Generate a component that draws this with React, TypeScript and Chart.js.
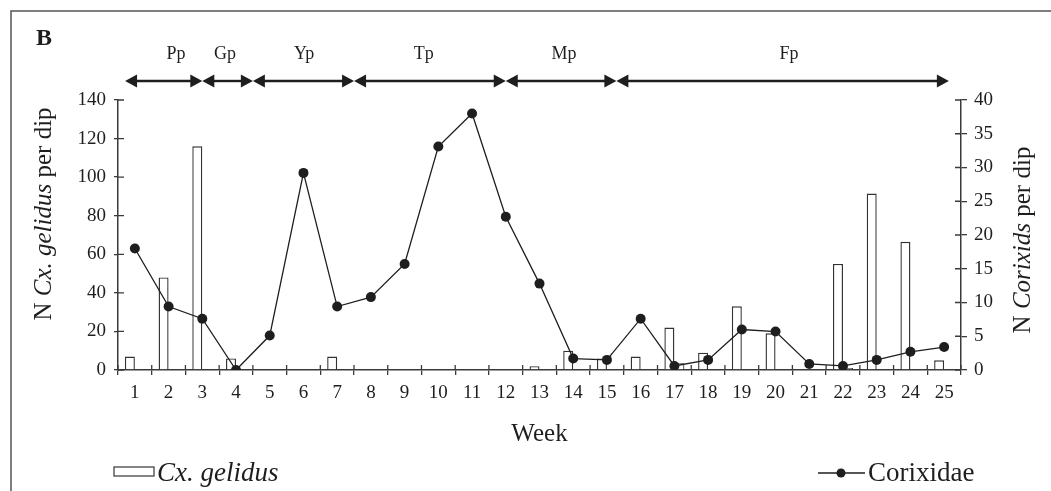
import React, { useEffect, useRef } from 'react';
import { Chart, registerables } from 'chart.js';

Chart.register(...registerables);

const weeks = ['1','2','3','4','5','6','7','8','9','10','11','12','13','14','15','16','17','18','19','20','21','22','23','24','25'];
const cxGelidus = [7, 48, 116, 6, 0, 0, 7, 0, 0, 0, 0, 0, 2, 10, 6, 7, 22, 9, 33, 19, 0, 55, 91.5, 66.5, 5];
const minorBars = [null, null, null, null, null, null, null, null, null, null, null, null, null, null, null, null, 3.5, null, null, null, null, 1, null, null, null];
const corixidae = [18.0, 9.4, 7.6, 0, 5.1, 29.2, 9.4, 10.8, 15.7, 33.1, 38.0, 22.7, 12.8, 1.7, 1.5, 7.6, 0.6, 1.5, 6.0, 5.7, 0.9, 0.6, 1.5, 2.7, 3.4];
const leftMax = 140;
const leftStep = 20;
const rightMax = 40;
const rightStep = 5;
const phaseNames = ['Pp', 'Gp', 'Yp', 'Tp', 'Mp', 'Fp'];
const phaseBounds = [-0.29, 2, 3.5, 6.5, 11, 14.28, 24.14];
const phaseLabelAt = [1.22, 2.67, 5.02, 8.57, 12.73, 19.4];

const SERIF = "'Liberation Serif', 'Times New Roman', serif";
const INK = '#1e1e1e';
const AXIS = '#3a3a3a';

function drawMixed(ctx: CanvasRenderingContext2D, parts: { t: string; italic?: boolean }[], size: number, x: number, y: number, align: 'center' | 'left') {
  const widths = parts.map((p) => {
    ctx.font = `${p.italic ? 'italic ' : ''}${size}px ${SERIF}`;
    return ctx.measureText(p.t).width;
  });
  const total = widths.reduce((a, b) => a + b, 0);
  let cx = align === 'center' ? x - total / 2 : x;
  ctx.textAlign = 'left';
  parts.forEach((p, i) => {
    ctx.font = `${p.italic ? 'italic ' : ''}${size}px ${SERIF}`;
    ctx.fillText(p.t, cx, y);
    cx += widths[i];
  });
}

const decorPlugin = {
  id: 'decor',
  afterDraw(chart: any) {
    const ctx: CanvasRenderingContext2D = chart.ctx;
    const xs = chart.scales.x;
    const yl = chart.scales.y;
    const yr = chart.scales.y1;
    const area = chart.chartArea;
    ctx.save();

    // frame
    ctx.strokeStyle = '#555';
    ctx.lineWidth = 1.5;
    ctx.beginPath();
    ctx.moveTo(11, chart.height);
    ctx.lineTo(11, 11);
    ctx.lineTo(chart.width, 11);
    ctx.stroke();

    // inner tick marks
    ctx.strokeStyle = AXIS;
    ctx.lineWidth = 1.3;
    ctx.beginPath();
    for (let i = 0; i <= weeks.length; i++) {
      const px = xs.getPixelForValue(i - 0.5);
      ctx.moveTo(px, area.bottom);
      ctx.lineTo(px, area.bottom - 5);
    }
    for (let v = 0; v <= leftMax; v += leftStep) {
      const py = yl.getPixelForValue(v);
      ctx.moveTo(area.left, py);
      ctx.lineTo(area.left + 6, py);
    }
    for (let v = 0; v <= rightMax; v += rightStep) {
      const py = yr.getPixelForValue(v);
      ctx.moveTo(area.right, py);
      ctx.lineTo(area.right - 6, py);
    }
    ctx.stroke();

    ctx.fillStyle = INK;
    // panel letter
    ctx.font = `bold 24px ${SERIF}`;
    ctx.textAlign = 'left';
    ctx.textBaseline = 'alphabetic';
    ctx.fillText('B', 36, 45);

    // phases
    const ay = 81;
    const headL = 12;
    const headH = 6.5;
    ctx.strokeStyle = INK;
    ctx.lineWidth = 2.4;
    for (let i = 0; i < phaseNames.length; i++) {
      const x0 = xs.getPixelForValue(phaseBounds[i]);
      const x1 = xs.getPixelForValue(phaseBounds[i + 1]);
      ctx.beginPath();
      ctx.moveTo(x0 + headL - 1, ay);
      ctx.lineTo(x1 - headL + 1, ay);
      ctx.stroke();
      ctx.beginPath();
      ctx.moveTo(x0, ay);
      ctx.lineTo(x0 + headL, ay - headH);
      ctx.lineTo(x0 + headL, ay + headH);
      ctx.closePath();
      ctx.fill();
      ctx.beginPath();
      ctx.moveTo(x1, ay);
      ctx.lineTo(x1 - headL, ay - headH);
      ctx.lineTo(x1 - headL, ay + headH);
      ctx.closePath();
      ctx.fill();
      ctx.font = `18px ${SERIF}`;
      ctx.textAlign = 'center';
      ctx.textBaseline = 'middle';
      ctx.fillText(phaseNames[i], xs.getPixelForValue(phaseLabelAt[i]), 54);
    }

    // axis titles
    ctx.textBaseline = 'middle';
    ctx.save();
    ctx.translate(44, 214);
    ctx.rotate(-Math.PI / 2);
    drawMixed(ctx, [{ t: 'N ' }, { t: 'Cx. gelidus', italic: true }, { t: ' per dip' }], 25, 0, 0, 'center');
    ctx.restore();
    ctx.save();
    ctx.translate(1023, 240);
    ctx.rotate(-Math.PI / 2);
    drawMixed(ctx, [{ t: 'N ' }, { t: 'Corixids', italic: true }, { t: ' per dip' }], 25, 0, 0, 'center');
    ctx.restore();

    ctx.font = `25px ${SERIF}`;
    ctx.textAlign = 'center';
    ctx.fillText('Week', (area.left + area.right) / 2, 434);

    // legend
    ctx.strokeStyle = '#444';
    ctx.lineWidth = 1.3;
    ctx.fillStyle = '#fff';
    ctx.fillRect(114, 467, 40, 9);
    ctx.strokeRect(114, 467, 40, 9);
    ctx.fillStyle = INK;
    ctx.textBaseline = 'alphabetic';
    drawMixed(ctx, [{ t: 'Cx. gelidus', italic: true }], 27, 157, 481, 'left');

    ctx.strokeStyle = INK;
    ctx.lineWidth = 1.3;
    ctx.beginPath();
    ctx.moveTo(818, 473);
    ctx.lineTo(865, 473);
    ctx.stroke();
    ctx.beginPath();
    ctx.arc(841, 473, 4.5, 0, Math.PI * 2);
    ctx.fill();
    drawMixed(ctx, [{ t: 'Corixidae' }], 27, 868, 481, 'left');

    ctx.restore();
  },
};

export default function App() {
  const ref = useRef<HTMLCanvasElement | null>(null);
  useEffect(() => {
    document.body.style.margin = '0';
    Chart.defaults.font.family = SERIF;
    const canvas = ref.current!;
    const chart = new Chart(canvas, {
      type: 'bar',
      data: {
        labels: weeks,
        datasets: [
          {
            type: 'line',
            label: 'Corixidae',
            data: corixidae,
            yAxisID: 'y1',
            borderColor: INK,
            backgroundColor: INK,
            borderWidth: 1.3,
            pointRadius: 5,
            pointBackgroundColor: INK,
            pointBorderColor: INK,
            pointBorderWidth: 0,
            tension: 0,
            order: 0,
          } as any,
          {
            type: 'bar',
            label: 'Cx. gelidus',
            data: cxGelidus,
            yAxisID: 'y',
            backgroundColor: '#ffffff',
            borderColor: '#333',
            borderWidth: 1.4,
            categoryPercentage: 0.593,
            barPercentage: 1,
            order: 1,
          },
          {
            type: 'bar',
            label: 'minor',
            data: minorBars,
            yAxisID: 'y',
            backgroundColor: '#ffffff',
            borderColor: '#333',
            borderWidth: 1.2,
            categoryPercentage: 0.593,
            barPercentage: 1,
            order: 2,
          },
        ],
      },
      options: {
        animation: false,
        responsive: false,
        maintainAspectRatio: false,
        layout: { padding: { top: 100, left: 0, right: 0, bottom: 0 } },
        plugins: { legend: { display: false }, tooltip: { enabled: false } },
        scales: {
          x: {
            type: 'category',
            offset: true,
            grid: { display: true, drawOnChartArea: false, drawTicks: true, tickLength: 5, color: AXIS, lineWidth: 1.3, offset: true },
            border: { display: true, color: AXIS, width: 1.5 },
            ticks: { color: INK, font: { size: 19, family: SERIF }, padding: 7, maxRotation: 0, autoSkip: false },
            afterFit: (s: any) => { s.height = 121; },
          },
          y: {
            position: 'left',
            min: 0,
            max: leftMax,
            grid: { display: true, drawOnChartArea: false, tickLength: 4, color: AXIS, lineWidth: 1.3 },
            border: { display: true, color: AXIS, width: 1.5 },
            ticks: { stepSize: leftStep, color: INK, font: { size: 19, family: SERIF }, padding: 8 },
            afterFit: (s: any) => { s.width = 118; },
          },
          y1: {
            position: 'right',
            min: 0,
            max: rightMax,
            grid: { display: true, drawOnChartArea: false, tickLength: 6, color: AXIS, lineWidth: 1.3 },
            border: { display: true, color: AXIS, width: 1.5 },
            ticks: { stepSize: rightStep, color: INK, font: { size: 19, family: SERIF }, padding: 7 },
            afterFit: (s: any) => { s.width = 90; },
          },
        },
      },
      plugins: [decorPlugin],
    });
    return () => chart.destroy();
  }, []);
  return (
    <div style={{ width: 1051, height: 491, background: '#fff' }}>
      <canvas ref={ref} width={1051} height={491} style={{ display: 'block' }} />
    </div>
  );
}
